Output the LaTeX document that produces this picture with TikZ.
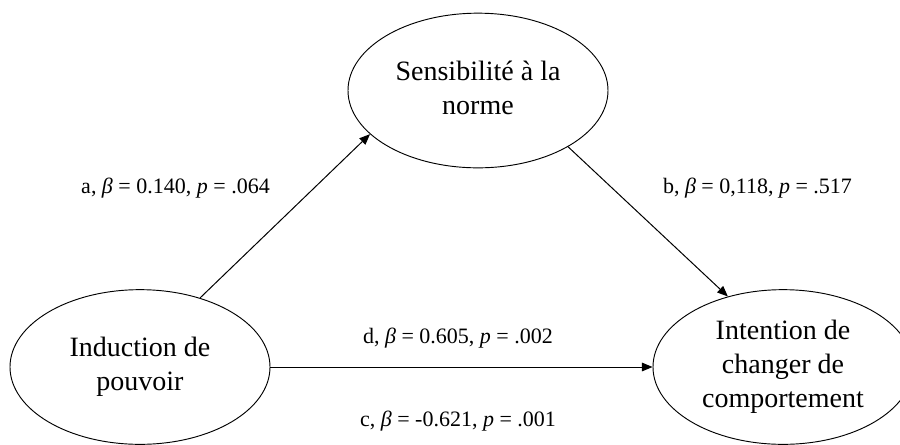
\documentclass[tikz,border=0pt]{standalone}
\usepackage{fontspec}
\setmainfont{Liberation Serif}
\usetikzlibrary{shapes.geometric,arrows.meta}
\begin{document}
\begin{tikzpicture}[x=0.75pt,y=-0.75pt,
  ell/.style={draw,ellipse,line width=0.7pt,minimum width=195pt,minimum height=116pt,inner sep=0pt,align=center,font=\fontsize{21}{25.5}\selectfont},
  lab/.style={font=\fontsize{16.5}{19}\selectfont,anchor=base,inner sep=0pt},
  arr/.style={line width=0.75pt,-{Triangle[length=8pt,width=6.5pt]}}]
\useasboundingbox (0,0) rectangle (900,444);
\clip (0,0) rectangle (900,444);
\node[ell] (T) at (478,90.5) {\raisebox{-4.5pt}{\begin{tabular}{@{}c@{}}Sensibilité à la\\norme\end{tabular}}};
\node[ell] (L) at (140,367) {Induction de\\pouvoir};
\node[ell] (R) at (783,367) {Intention de\\changer de\\comportement};
\draw[arr] (L.49) -- (T.202);
\draw[arr] (T.-32) -- (R.128);
\draw[arr] (L.east) -- (R.west);
\node[lab] (la) at (175.5,193) {a, \textit{β} = 0.140, \textit{p} = .064};
\node[lab] (lb) at (757.5,193) {b, \textit{β} = 0,118, \textit{p} = .517};
\node[lab] (ld) at (458,343) {d, \textit{β} = 0.605, \textit{p} = .002};
\node[lab] (lc) at (458,426) {c, \textit{β} = -0.621, \textit{p} = .001};
\end{tikzpicture}
\end{document}
